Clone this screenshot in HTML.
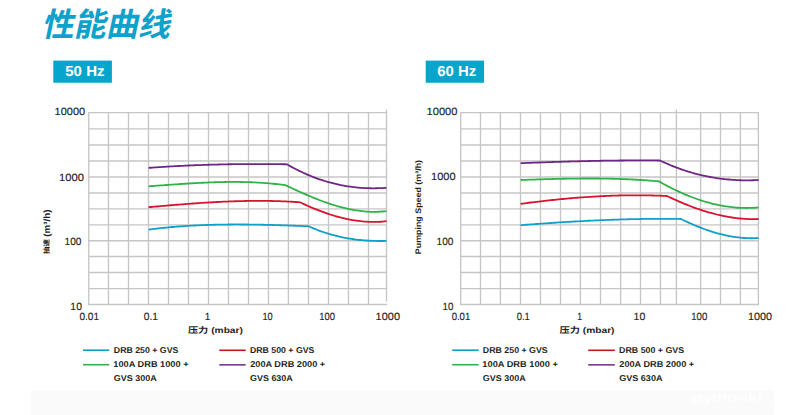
<!DOCTYPE html>
<html><head><meta charset="utf-8"><title>性能曲线</title>
<style>
html,body{margin:0;padding:0;background:#fff;width:800px;height:415px;overflow:hidden}
svg{display:block}text{text-rendering:geometricPrecision}
</style></head><body>
<svg width="800" height="415" viewBox="0 0 800 415">
<rect x="31" y="390.3" width="742.7" height="24.7" fill="#fafafa"/>
<g stroke="#c6c6c6" stroke-width="1.35" fill="none">
<line x1="88.15" y1="112.55" x2="387.10" y2="112.55"/>
<line x1="88.15" y1="128.80" x2="387.10" y2="128.80"/>
<line x1="88.15" y1="145.00" x2="387.10" y2="145.00"/>
<line x1="88.15" y1="161.00" x2="387.10" y2="161.00"/>
<line x1="88.15" y1="177.00" x2="387.10" y2="177.00"/>
<line x1="88.15" y1="193.00" x2="387.10" y2="193.00"/>
<line x1="88.15" y1="208.90" x2="387.10" y2="208.90"/>
<line x1="88.15" y1="224.90" x2="387.10" y2="224.90"/>
<line x1="88.15" y1="240.70" x2="387.10" y2="240.70"/>
<line x1="88.15" y1="256.50" x2="387.10" y2="256.50"/>
<line x1="88.15" y1="272.50" x2="387.10" y2="272.50"/>
<line x1="88.15" y1="288.55" x2="387.10" y2="288.55"/>
<line x1="88.15" y1="304.45" x2="387.10" y2="304.45"/>
<line x1="88.75" y1="112.55" x2="88.75" y2="304.45"/>
<line x1="108.50" y1="112.55" x2="108.50" y2="304.45"/>
<line x1="128.50" y1="112.55" x2="128.50" y2="304.45"/>
<line x1="148.50" y1="112.55" x2="148.50" y2="304.45"/>
<line x1="168.50" y1="112.55" x2="168.50" y2="304.45"/>
<line x1="188.50" y1="112.55" x2="188.50" y2="304.45"/>
<line x1="208.50" y1="112.55" x2="208.50" y2="304.45"/>
<line x1="228.50" y1="112.55" x2="228.50" y2="304.45"/>
<line x1="248.50" y1="112.55" x2="248.50" y2="304.45"/>
<line x1="268.50" y1="112.55" x2="268.50" y2="304.45"/>
<line x1="288.40" y1="112.55" x2="288.40" y2="304.45"/>
<line x1="308.50" y1="112.55" x2="308.50" y2="304.45"/>
<line x1="328.50" y1="112.55" x2="328.50" y2="304.45"/>
<line x1="348.50" y1="112.55" x2="348.50" y2="304.45"/>
<line x1="368.50" y1="112.55" x2="368.50" y2="304.45"/>
<line x1="386.50" y1="109.6" x2="386.50" y2="301.6"/>
<line x1="460.10" y1="112.55" x2="759.00" y2="112.55"/>
<line x1="460.10" y1="128.80" x2="759.00" y2="128.80"/>
<line x1="460.10" y1="145.00" x2="759.00" y2="145.00"/>
<line x1="460.10" y1="161.00" x2="759.00" y2="161.00"/>
<line x1="460.10" y1="177.00" x2="759.00" y2="177.00"/>
<line x1="460.10" y1="193.00" x2="759.00" y2="193.00"/>
<line x1="460.10" y1="208.90" x2="759.00" y2="208.90"/>
<line x1="460.10" y1="224.90" x2="759.00" y2="224.90"/>
<line x1="460.10" y1="240.70" x2="759.00" y2="240.70"/>
<line x1="460.10" y1="256.50" x2="759.00" y2="256.50"/>
<line x1="460.10" y1="272.50" x2="759.00" y2="272.50"/>
<line x1="460.10" y1="288.55" x2="759.00" y2="288.55"/>
<line x1="460.10" y1="304.45" x2="759.00" y2="304.45"/>
<line x1="460.70" y1="112.55" x2="460.70" y2="304.45"/>
<line x1="480.50" y1="112.55" x2="480.50" y2="304.45"/>
<line x1="500.40" y1="112.55" x2="500.40" y2="304.45"/>
<line x1="520.50" y1="112.55" x2="520.50" y2="304.45"/>
<line x1="540.50" y1="112.55" x2="540.50" y2="304.45"/>
<line x1="560.50" y1="112.55" x2="560.50" y2="304.45"/>
<line x1="580.40" y1="112.55" x2="580.40" y2="304.45"/>
<line x1="600.50" y1="112.55" x2="600.50" y2="304.45"/>
<line x1="620.60" y1="112.55" x2="620.60" y2="304.45"/>
<line x1="640.50" y1="112.55" x2="640.50" y2="304.45"/>
<line x1="660.50" y1="112.55" x2="660.50" y2="304.45"/>
<line x1="676.40" y1="109.6" x2="676.40" y2="304.45"/>
<line x1="700.60" y1="112.55" x2="700.60" y2="304.45"/>
<line x1="720.50" y1="112.55" x2="720.50" y2="304.45"/>
<line x1="740.40" y1="112.55" x2="740.40" y2="304.45"/>
<line x1="758.40" y1="112.55" x2="758.40" y2="304.45"/>
</g>
<g fill="none" stroke-width="1.8" stroke-linejoin="round" stroke-linecap="butt">
<path d="M148.60,229.60 L150.60,229.34 L152.60,229.09 L154.60,228.85 L156.60,228.62 L158.61,228.39 L160.61,228.17 L162.61,227.96 L164.61,227.76 L166.61,227.56 L168.61,227.37 L170.61,227.19 L172.61,227.01 L174.62,226.84 L176.62,226.68 L178.62,226.52 L180.62,226.37 L182.62,226.23 L184.62,226.09 L186.62,225.96 L188.62,225.84 L190.63,225.72 L192.63,225.61 L194.63,225.50 L196.63,225.40 L198.63,225.31 L200.63,225.22 L202.63,225.13 L204.63,225.05 L206.64,224.98 L208.64,224.91 L210.64,224.85 L212.64,224.79 L214.64,224.74 L216.64,224.69 L218.64,224.65 L220.64,224.61 L222.65,224.58 L224.65,224.55 L226.65,224.53 L228.65,224.51 L230.65,224.49 L232.65,224.48 L234.65,224.47 L236.65,224.47 L238.66,224.47 L240.66,224.48 L242.66,224.48 L244.66,224.50 L246.66,224.51 L248.66,224.53 L250.66,224.55 L252.66,224.58 L254.67,224.61 L256.67,224.64 L258.67,224.68 L260.67,224.72 L262.67,224.76 L264.67,224.80 L266.67,224.85 L268.67,224.90 L270.68,224.95 L272.68,225.00 L274.68,225.06 L276.68,225.12 L278.68,225.18 L280.68,225.24 L282.68,225.31 L284.68,225.38 L286.69,225.45 L288.69,225.52 L290.69,225.59 L292.69,225.66 L294.69,225.74 L296.69,225.81 L298.69,225.89 L300.69,225.97 L302.70,226.05 L304.70,226.13 L306.70,226.22 L308.70,226.30 L310.75,227.21 L312.79,228.09 L314.84,228.94 L316.89,229.76 L318.94,230.54 L320.98,231.29 L323.03,232.00 L325.08,232.69 L327.13,233.35 L329.17,233.97 L331.22,234.57 L333.27,235.13 L335.32,235.67 L337.36,236.18 L339.41,236.65 L341.46,237.11 L343.51,237.53 L345.55,237.93 L347.60,238.30 L349.65,238.64 L351.69,238.96 L353.74,239.26 L355.79,239.53 L357.84,239.77 L359.88,239.99 L361.93,240.19 L363.98,240.36 L366.03,240.52 L368.07,240.65 L370.12,240.76 L372.17,240.84 L374.22,240.91 L376.26,240.96 L378.31,240.98 L380.36,240.99 L382.41,240.98 L384.45,240.95 L386.50,240.90" stroke="#0ea0c9"/>
<path d="M520.60,225.20 L522.61,225.04 L524.61,224.89 L526.62,224.74 L528.62,224.58 L530.62,224.43 L532.63,224.28 L534.63,224.13 L536.64,223.99 L538.64,223.84 L540.65,223.70 L542.65,223.56 L544.66,223.41 L546.66,223.28 L548.67,223.14 L550.68,223.00 L552.68,222.87 L554.69,222.73 L556.69,222.60 L558.70,222.47 L560.70,222.34 L562.71,222.22 L564.71,222.09 L566.72,221.97 L568.72,221.85 L570.73,221.73 L572.73,221.61 L574.74,221.50 L576.74,221.39 L578.75,221.28 L580.75,221.17 L582.75,221.06 L584.76,220.96 L586.76,220.85 L588.77,220.75 L590.77,220.66 L592.78,220.56 L594.79,220.47 L596.79,220.37 L598.80,220.29 L600.80,220.20 L602.81,220.11 L604.81,220.03 L606.82,219.95 L608.82,219.88 L610.83,219.80 L612.83,219.73 L614.84,219.66 L616.84,219.59 L618.85,219.53 L620.85,219.47 L622.86,219.41 L624.86,219.35 L626.87,219.30 L628.87,219.25 L630.88,219.20 L632.88,219.16 L634.88,219.11 L636.89,219.07 L638.89,219.04 L640.90,219.01 L642.90,218.97 L644.91,218.95 L646.91,218.92 L648.92,218.90 L650.92,218.88 L652.93,218.87 L654.93,218.86 L656.94,218.85 L658.95,218.84 L660.95,218.84 L662.96,218.84 L664.96,218.84 L666.97,218.85 L668.97,218.86 L670.98,218.88 L672.98,218.90 L674.99,218.92 L676.99,218.94 L679.00,218.97 L681.00,219.00 L683.04,219.99 L685.08,220.96 L687.12,221.91 L689.16,222.84 L691.20,223.75 L693.24,224.63 L695.28,225.50 L697.32,226.34 L699.36,227.16 L701.39,227.95 L703.43,228.72 L705.47,229.47 L707.51,230.18 L709.55,230.88 L711.59,231.54 L713.63,232.18 L715.67,232.79 L717.71,233.37 L719.75,233.92 L721.79,234.44 L723.83,234.93 L725.87,235.39 L727.91,235.82 L729.95,236.21 L731.99,236.57 L734.03,236.90 L736.07,237.19 L738.11,237.45 L740.14,237.68 L742.18,237.87 L744.22,238.02 L746.26,238.13 L748.30,238.21 L750.34,238.24 L752.38,238.24 L754.42,238.20 L756.46,238.12 L758.50,238.00" stroke="#0ea0c9"/>
<path d="M148.60,207.20 L150.62,207.02 L152.64,206.84 L154.66,206.66 L156.67,206.48 L158.69,206.30 L160.71,206.13 L162.73,205.95 L164.75,205.78 L166.77,205.60 L168.79,205.43 L170.81,205.26 L172.82,205.09 L174.84,204.93 L176.86,204.76 L178.88,204.60 L180.90,204.44 L182.92,204.28 L184.94,204.12 L186.95,203.97 L188.97,203.82 L190.99,203.67 L193.01,203.52 L195.03,203.38 L197.05,203.24 L199.07,203.10 L201.09,202.96 L203.10,202.83 L205.12,202.70 L207.14,202.58 L209.16,202.46 L211.18,202.34 L213.20,202.23 L215.22,202.12 L217.23,202.01 L219.25,201.91 L221.27,201.81 L223.29,201.72 L225.31,201.63 L227.33,201.54 L229.35,201.46 L231.37,201.38 L233.38,201.31 L235.40,201.25 L237.42,201.18 L239.44,201.13 L241.46,201.08 L243.48,201.03 L245.50,200.99 L247.51,200.96 L249.53,200.93 L251.55,200.90 L253.57,200.88 L255.59,200.87 L257.61,200.86 L259.63,200.86 L261.65,200.87 L263.66,200.88 L265.68,200.90 L267.70,200.93 L269.72,200.96 L271.74,201.00 L273.76,201.04 L275.78,201.09 L277.79,201.15 L279.81,201.22 L281.83,201.29 L283.85,201.37 L285.87,201.46 L287.89,201.56 L289.91,201.66 L291.93,201.77 L293.94,201.89 L295.96,202.02 L297.98,202.15 L300.00,202.30 L302.01,203.25 L304.02,204.18 L306.03,205.10 L308.05,205.99 L310.06,206.87 L312.07,207.73 L314.08,208.57 L316.09,209.38 L318.10,210.18 L320.12,210.96 L322.13,211.71 L324.14,212.44 L326.15,213.15 L328.16,213.83 L330.17,214.50 L332.19,215.13 L334.20,215.74 L336.21,216.33 L338.22,216.89 L340.23,217.42 L342.24,217.93 L344.26,218.41 L346.27,218.86 L348.28,219.28 L350.29,219.67 L352.30,220.04 L354.31,220.37 L356.33,220.67 L358.34,220.95 L360.35,221.19 L362.36,221.39 L364.37,221.57 L366.38,221.71 L368.40,221.82 L370.41,221.90 L372.42,221.94 L374.43,221.94 L376.44,221.91 L378.45,221.84 L380.47,221.74 L382.48,221.60 L384.49,221.42 L386.50,221.20" stroke="#d9122f"/>
<path d="M520.60,203.80 L522.61,203.54 L524.61,203.28 L526.62,203.02 L528.62,202.76 L530.63,202.51 L532.63,202.27 L534.64,202.02 L536.64,201.78 L538.65,201.54 L540.65,201.31 L542.66,201.08 L544.67,200.85 L546.67,200.63 L548.68,200.41 L550.68,200.20 L552.69,199.99 L554.69,199.78 L556.70,199.58 L558.70,199.38 L560.71,199.18 L562.72,198.99 L564.72,198.80 L566.73,198.62 L568.73,198.44 L570.74,198.27 L572.74,198.10 L574.75,197.93 L576.75,197.77 L578.76,197.62 L580.76,197.47 L582.77,197.32 L584.78,197.18 L586.78,197.04 L588.79,196.91 L590.79,196.78 L592.80,196.65 L594.80,196.54 L596.81,196.42 L598.81,196.31 L600.82,196.21 L602.82,196.11 L604.83,196.02 L606.84,195.93 L608.84,195.85 L610.85,195.77 L612.85,195.70 L614.86,195.64 L616.86,195.58 L618.87,195.52 L620.87,195.47 L622.88,195.43 L624.88,195.39 L626.89,195.36 L628.90,195.33 L630.90,195.31 L632.91,195.29 L634.91,195.29 L636.92,195.28 L638.92,195.29 L640.93,195.30 L642.93,195.31 L644.94,195.33 L646.95,195.36 L648.95,195.40 L650.96,195.44 L652.96,195.48 L654.97,195.54 L656.97,195.60 L658.98,195.66 L660.98,195.74 L662.99,195.82 L664.99,195.90 L667.00,196.00 L669.03,196.97 L671.07,197.92 L673.10,198.86 L675.13,199.78 L677.17,200.68 L679.20,201.57 L681.23,202.44 L683.27,203.30 L685.30,204.13 L687.33,204.95 L689.37,205.75 L691.40,206.53 L693.43,207.29 L695.47,208.03 L697.50,208.75 L699.53,209.45 L701.57,210.12 L703.60,210.78 L705.63,211.42 L707.67,212.03 L709.70,212.62 L711.73,213.19 L713.77,213.73 L715.80,214.25 L717.83,214.75 L719.87,215.22 L721.90,215.67 L723.93,216.09 L725.97,216.48 L728.00,216.85 L730.03,217.20 L732.07,217.51 L734.10,217.80 L736.13,218.06 L738.17,218.30 L740.20,218.50 L742.23,218.68 L744.27,218.82 L746.30,218.94 L748.33,219.03 L750.37,219.08 L752.40,219.11 L754.43,219.11 L756.47,219.07 L758.50,219.00" stroke="#d9122f"/>
<path d="M148.60,186.30 L150.61,186.16 L152.63,186.01 L154.64,185.87 L156.65,185.72 L158.67,185.58 L160.68,185.43 L162.69,185.28 L164.71,185.14 L166.72,184.99 L168.73,184.85 L170.75,184.71 L172.76,184.57 L174.77,184.43 L176.79,184.29 L178.80,184.15 L180.81,184.01 L182.82,183.88 L184.84,183.75 L186.85,183.62 L188.86,183.50 L190.88,183.38 L192.89,183.26 L194.90,183.14 L196.92,183.03 L198.93,182.93 L200.94,182.82 L202.96,182.73 L204.97,182.63 L206.98,182.54 L209.00,182.46 L211.01,182.38 L213.02,182.31 L215.04,182.24 L217.05,182.18 L219.06,182.12 L221.08,182.08 L223.09,182.03 L225.10,182.00 L227.12,181.97 L229.13,181.95 L231.14,181.94 L233.16,181.93 L235.17,181.93 L237.18,181.94 L239.20,181.96 L241.21,181.99 L243.22,182.03 L245.24,182.07 L247.25,182.13 L249.26,182.19 L251.27,182.26 L253.29,182.35 L255.30,182.44 L257.31,182.54 L259.33,182.66 L261.34,182.78 L263.35,182.92 L265.37,183.07 L267.38,183.22 L269.39,183.39 L271.41,183.58 L273.42,183.77 L275.43,183.98 L277.45,184.19 L279.46,184.43 L281.47,184.67 L283.49,184.93 L285.50,185.20 L287.52,186.16 L289.54,187.11 L291.56,188.06 L293.58,189.00 L295.60,189.93 L297.62,190.86 L299.64,191.77 L301.66,192.68 L303.68,193.57 L305.70,194.45 L307.72,195.32 L309.74,196.18 L311.76,197.02 L313.78,197.85 L315.80,198.66 L317.82,199.46 L319.84,200.23 L321.86,200.99 L323.88,201.73 L325.90,202.45 L327.92,203.15 L329.94,203.83 L331.96,204.49 L333.98,205.13 L336.00,205.74 L338.02,206.32 L340.04,206.89 L342.06,207.42 L344.08,207.93 L346.10,208.41 L348.12,208.87 L350.14,209.29 L352.16,209.69 L354.18,210.05 L356.20,210.39 L358.22,210.69 L360.24,210.95 L362.26,211.19 L364.28,211.39 L366.30,211.55 L368.32,211.68 L370.34,211.78 L372.36,211.83 L374.38,211.85 L376.40,211.82 L378.42,211.76 L380.44,211.66 L382.46,211.51 L384.48,211.33 L386.50,211.10" stroke="#2fb24a"/>
<path d="M520.60,180.00 L522.61,179.93 L524.61,179.86 L526.62,179.79 L528.62,179.72 L530.63,179.66 L532.63,179.59 L534.64,179.53 L536.65,179.46 L538.65,179.40 L540.66,179.34 L542.66,179.28 L544.67,179.22 L546.68,179.16 L548.68,179.10 L550.69,179.05 L552.69,179.00 L554.70,178.95 L556.70,178.90 L558.71,178.85 L560.72,178.81 L562.72,178.76 L564.73,178.73 L566.73,178.69 L568.74,178.65 L570.74,178.62 L572.75,178.59 L574.76,178.57 L576.76,178.55 L578.77,178.53 L580.77,178.51 L582.78,178.50 L584.79,178.49 L586.79,178.48 L588.80,178.48 L590.80,178.48 L592.81,178.48 L594.81,178.49 L596.82,178.50 L598.83,178.52 L600.83,178.54 L602.84,178.57 L604.84,178.60 L606.85,178.63 L608.86,178.67 L610.86,178.71 L612.87,178.76 L614.87,178.81 L616.88,178.87 L618.88,178.93 L620.89,179.00 L622.90,179.07 L624.90,179.15 L626.91,179.24 L628.91,179.32 L630.92,179.42 L632.92,179.52 L634.93,179.63 L636.94,179.74 L638.94,179.86 L640.95,179.98 L642.95,180.11 L644.96,180.25 L646.97,180.40 L648.97,180.55 L650.98,180.70 L652.98,180.87 L654.99,181.04 L656.99,181.21 L659.00,181.40 L661.03,182.55 L663.06,183.68 L665.09,184.78 L667.12,185.86 L669.15,186.92 L671.18,187.96 L673.21,188.97 L675.24,189.96 L677.28,190.93 L679.31,191.87 L681.34,192.79 L683.37,193.68 L685.40,194.55 L687.43,195.40 L689.46,196.22 L691.49,197.01 L693.52,197.78 L695.55,198.52 L697.58,199.24 L699.61,199.93 L701.64,200.60 L703.67,201.24 L705.70,201.85 L707.73,202.43 L709.77,202.99 L711.80,203.51 L713.83,204.01 L715.86,204.49 L717.89,204.93 L719.92,205.34 L721.95,205.73 L723.98,206.08 L726.01,206.41 L728.04,206.71 L730.07,206.97 L732.10,207.21 L734.13,207.41 L736.16,207.59 L738.19,207.73 L740.22,207.84 L742.26,207.93 L744.29,207.97 L746.32,207.99 L748.35,207.97 L750.38,207.93 L752.41,207.84 L754.44,207.73 L756.47,207.58 L758.50,207.40" stroke="#2fb24a"/>
<path d="M148.60,167.90 L150.61,167.75 L152.61,167.61 L154.62,167.47 L156.62,167.33 L158.63,167.19 L160.63,167.06 L162.64,166.93 L164.65,166.81 L166.65,166.68 L168.66,166.56 L170.66,166.45 L172.67,166.33 L174.68,166.22 L176.68,166.11 L178.69,166.01 L180.69,165.90 L182.70,165.80 L184.70,165.71 L186.71,165.61 L188.72,165.52 L190.72,165.43 L192.73,165.35 L194.73,165.26 L196.74,165.18 L198.74,165.11 L200.75,165.03 L202.76,164.96 L204.76,164.89 L206.77,164.82 L208.77,164.76 L210.78,164.70 L212.79,164.64 L214.79,164.59 L216.80,164.53 L218.80,164.48 L220.81,164.44 L222.81,164.39 L224.82,164.35 L226.83,164.31 L228.83,164.27 L230.84,164.24 L232.84,164.21 L234.85,164.18 L236.86,164.15 L238.86,164.13 L240.87,164.11 L242.87,164.09 L244.88,164.07 L246.88,164.06 L248.89,164.05 L250.90,164.04 L252.90,164.03 L254.91,164.03 L256.91,164.03 L258.92,164.03 L260.92,164.03 L262.93,164.04 L264.94,164.05 L266.94,164.06 L268.95,164.07 L270.95,164.09 L272.96,164.11 L274.97,164.13 L276.97,164.15 L278.98,164.17 L280.98,164.20 L282.99,164.23 L284.99,164.27 L287.00,164.30 L289.03,165.47 L291.06,166.60 L293.09,167.70 L295.12,168.78 L297.15,169.82 L299.18,170.83 L301.21,171.81 L303.24,172.76 L305.28,173.68 L307.31,174.57 L309.34,175.43 L311.37,176.26 L313.40,177.06 L315.43,177.83 L317.46,178.57 L319.49,179.29 L321.52,179.97 L323.55,180.63 L325.58,181.26 L327.61,181.86 L329.64,182.43 L331.67,182.98 L333.70,183.49 L335.73,183.98 L337.77,184.44 L339.80,184.88 L341.83,185.29 L343.86,185.67 L345.89,186.02 L347.92,186.35 L349.95,186.65 L351.98,186.93 L354.01,187.18 L356.04,187.41 L358.07,187.60 L360.10,187.78 L362.13,187.93 L364.16,188.05 L366.19,188.15 L368.22,188.22 L370.26,188.27 L372.29,188.29 L374.32,188.29 L376.35,188.27 L378.38,188.22 L380.41,188.15 L382.44,188.06 L384.47,187.94 L386.50,187.80" stroke="#6f2585"/>
<path d="M520.60,163.20 L522.62,163.12 L524.64,163.04 L526.66,162.96 L528.68,162.88 L530.70,162.80 L532.72,162.72 L534.74,162.65 L536.76,162.57 L538.78,162.50 L540.80,162.42 L542.82,162.35 L544.84,162.28 L546.86,162.21 L548.88,162.14 L550.90,162.07 L552.92,162.00 L554.94,161.94 L556.97,161.87 L558.99,161.81 L561.01,161.75 L563.03,161.68 L565.05,161.62 L567.07,161.56 L569.09,161.50 L571.11,161.45 L573.13,161.39 L575.15,161.34 L577.17,161.28 L579.19,161.23 L581.21,161.18 L583.23,161.13 L585.25,161.09 L587.27,161.04 L589.29,161.00 L591.31,160.95 L593.33,160.91 L595.35,160.87 L597.37,160.83 L599.39,160.79 L601.41,160.76 L603.43,160.72 L605.45,160.69 L607.47,160.66 L609.49,160.63 L611.51,160.60 L613.53,160.58 L615.55,160.55 L617.57,160.53 L619.59,160.51 L621.61,160.49 L623.63,160.48 L625.66,160.46 L627.68,160.45 L629.70,160.44 L631.72,160.43 L633.74,160.42 L635.76,160.41 L637.78,160.41 L639.80,160.41 L641.82,160.41 L643.84,160.41 L645.86,160.41 L647.88,160.42 L649.90,160.43 L651.92,160.44 L653.94,160.45 L655.96,160.46 L657.98,160.48 L660.00,160.50 L662.01,161.45 L664.02,162.37 L666.03,163.27 L668.04,164.14 L670.05,164.99 L672.06,165.81 L674.07,166.61 L676.08,167.39 L678.09,168.14 L680.10,168.87 L682.11,169.57 L684.12,170.25 L686.13,170.91 L688.14,171.54 L690.15,172.15 L692.16,172.74 L694.17,173.30 L696.18,173.84 L698.19,174.36 L700.20,174.86 L702.21,175.33 L704.22,175.78 L706.23,176.21 L708.24,176.62 L710.26,177.00 L712.27,177.37 L714.28,177.71 L716.29,178.03 L718.30,178.33 L720.31,178.61 L722.32,178.86 L724.33,179.10 L726.34,179.31 L728.35,179.50 L730.36,179.68 L732.37,179.83 L734.38,179.96 L736.39,180.07 L738.40,180.17 L740.41,180.24 L742.42,180.29 L744.43,180.32 L746.44,180.33 L748.45,180.33 L750.46,180.30 L752.47,180.25 L754.48,180.19 L756.49,180.11 L758.50,180.00" stroke="#6f2585"/>
</g>
<g stroke-width="1.6">
<line x1="83" y1="350.2" x2="109.2" y2="350.2" stroke="#0ea0c9"/>
<line x1="83" y1="364.7" x2="109.2" y2="364.7" stroke="#2fb24a"/>
<line x1="219.3" y1="350.3" x2="245.7" y2="350.3" stroke="#c5151f"/>
<line x1="219.3" y1="364.85" x2="245.7" y2="364.85" stroke="#7a3592"/>
<line x1="452.2" y1="350.2" x2="478.7" y2="350.2" stroke="#0ea0c9"/>
<line x1="452.2" y1="364.7" x2="478.7" y2="364.7" stroke="#2fb24a"/>
<line x1="588.2" y1="350.3" x2="614.8" y2="350.3" stroke="#c5151f"/>
<line x1="588.2" y1="364.85" x2="614.8" y2="364.85" stroke="#7a3592"/>
</g>
<rect x="53.3" y="60.6" width="58.6" height="22.15" fill="#05a5cc"/>
<rect x="425.7" y="60.6" width="58.35" height="22.15" fill="#05a5cc"/>
<text transform="translate(41.535,35.860) skewX(-12)" x="0" y="0" style="font-size:32.500px;font-weight:bold;font-family:'Noto Sans CJK SC', sans-serif" fill="#0ea2ca" textLength="128.361" lengthAdjust="spacingAndGlyphs">性能曲线</text>
<text transform="translate(65.265,75.962)" x="0" y="0" style="font-size:14.500px;font-weight:bold;font-family:'Liberation Sans', 'Noto Sans CJK SC', sans-serif" fill="#ffffff" textLength="39.213" lengthAdjust="spacingAndGlyphs">50 Hz</text>
<text transform="translate(437.304,75.726)" x="0" y="0" style="font-size:14.500px;font-weight:bold;font-family:'Liberation Sans', 'Noto Sans CJK SC', sans-serif" fill="#ffffff" textLength="38.895" lengthAdjust="spacingAndGlyphs">60 Hz</text>
<text transform="translate(54.616,115.468)" x="0" y="0" style="font-size:10.500px;font-weight:normal;font-family:'Liberation Sans', 'Noto Sans CJK SC', sans-serif" fill="#231f20" textLength="30.519" lengthAdjust="spacingAndGlyphs" stroke="#231f20" stroke-width="0.15">10000</text>
<text transform="translate(58.965,180.869)" x="0" y="0" style="font-size:10.500px;font-weight:normal;font-family:'Liberation Sans', 'Noto Sans CJK SC', sans-serif" fill="#231f20" textLength="24.887" lengthAdjust="spacingAndGlyphs" stroke="#231f20" stroke-width="0.15">1000</text>
<text transform="translate(64.622,244.824)" x="0" y="0" style="font-size:10.500px;font-weight:normal;font-family:'Liberation Sans', 'Noto Sans CJK SC', sans-serif" fill="#231f20" textLength="16.843" lengthAdjust="spacingAndGlyphs" stroke="#231f20" stroke-width="0.15">100</text>
<text transform="translate(70.362,309.950)" x="0" y="0" style="font-size:10.500px;font-weight:normal;font-family:'Liberation Sans', 'Noto Sans CJK SC', sans-serif" fill="#231f20" textLength="11.560" lengthAdjust="spacingAndGlyphs" stroke="#231f20" stroke-width="0.15">10</text>
<text transform="translate(426.560,115.465)" x="0" y="0" style="font-size:10.500px;font-weight:normal;font-family:'Liberation Sans', 'Noto Sans CJK SC', sans-serif" fill="#231f20" textLength="30.929" lengthAdjust="spacingAndGlyphs" stroke="#231f20" stroke-width="0.15">10000</text>
<text transform="translate(431.034,180.202)" x="0" y="0" style="font-size:10.500px;font-weight:normal;font-family:'Liberation Sans', 'Noto Sans CJK SC', sans-serif" fill="#231f20" textLength="24.504" lengthAdjust="spacingAndGlyphs" stroke="#231f20" stroke-width="0.15">1000</text>
<text transform="translate(436.622,245.106)" x="0" y="0" style="font-size:10.500px;font-weight:normal;font-family:'Liberation Sans', 'Noto Sans CJK SC', sans-serif" fill="#231f20" textLength="16.774" lengthAdjust="spacingAndGlyphs" stroke="#231f20" stroke-width="0.15">100</text>
<text transform="translate(442.444,309.947)" x="0" y="0" style="font-size:10.500px;font-weight:normal;font-family:'Liberation Sans', 'Noto Sans CJK SC', sans-serif" fill="#231f20" textLength="10.902" lengthAdjust="spacingAndGlyphs" stroke="#231f20" stroke-width="0.15">10</text>
<text transform="translate(79.421,319.878)" x="0" y="0" style="font-size:10.500px;font-weight:normal;font-family:'Liberation Sans', 'Noto Sans CJK SC', sans-serif" fill="#231f20" textLength="19.622" lengthAdjust="spacingAndGlyphs" stroke="#231f20" stroke-width="0.15">0.01</text>
<text transform="translate(143.692,319.950)" x="0" y="0" style="font-size:10.500px;font-weight:normal;font-family:'Liberation Sans', 'Noto Sans CJK SC', sans-serif" fill="#231f20" textLength="14.242" lengthAdjust="spacingAndGlyphs" stroke="#231f20" stroke-width="0.15">0.1</text>
<text transform="translate(204.800,319.530)" x="0" y="0" style="font-size:10.500px;font-weight:normal;font-family:'Liberation Sans', 'Noto Sans CJK SC', sans-serif" fill="#231f20" textLength="5.548" lengthAdjust="spacingAndGlyphs" stroke="#231f20" stroke-width="0.15">1</text>
<text transform="translate(262.441,319.919)" x="0" y="0" style="font-size:10.500px;font-weight:normal;font-family:'Liberation Sans', 'Noto Sans CJK SC', sans-serif" fill="#231f20" textLength="10.302" lengthAdjust="spacingAndGlyphs" stroke="#231f20" stroke-width="0.15">10</text>
<text transform="translate(319.354,319.897)" x="0" y="0" style="font-size:10.500px;font-weight:normal;font-family:'Liberation Sans', 'Noto Sans CJK SC', sans-serif" fill="#231f20" textLength="15.663" lengthAdjust="spacingAndGlyphs" stroke="#231f20" stroke-width="0.15">100</text>
<text transform="translate(375.623,319.793)" x="0" y="0" style="font-size:10.500px;font-weight:normal;font-family:'Liberation Sans', 'Noto Sans CJK SC', sans-serif" fill="#231f20" textLength="24.365" lengthAdjust="spacingAndGlyphs" stroke="#231f20" stroke-width="0.15">1000</text>
<text transform="translate(451.633,319.906)" x="0" y="0" style="font-size:10.500px;font-weight:normal;font-family:'Liberation Sans', 'Noto Sans CJK SC', sans-serif" fill="#231f20" textLength="18.632" lengthAdjust="spacingAndGlyphs" stroke="#231f20" stroke-width="0.15">0.01</text>
<text transform="translate(516.633,319.938)" x="0" y="0" style="font-size:10.500px;font-weight:normal;font-family:'Liberation Sans', 'Noto Sans CJK SC', sans-serif" fill="#231f20" textLength="13.186" lengthAdjust="spacingAndGlyphs" stroke="#231f20" stroke-width="0.15">0.1</text>
<text transform="translate(577.253,319.818)" x="0" y="0" style="font-size:10.500px;font-weight:normal;font-family:'Liberation Sans', 'Noto Sans CJK SC', sans-serif" fill="#231f20" textLength="4.841" lengthAdjust="spacingAndGlyphs" stroke="#231f20" stroke-width="0.15">1</text>
<text transform="translate(633.534,319.869)" x="0" y="0" style="font-size:10.500px;font-weight:normal;font-family:'Liberation Sans', 'Noto Sans CJK SC', sans-serif" fill="#231f20" textLength="11.710" lengthAdjust="spacingAndGlyphs" stroke="#231f20" stroke-width="0.15">10</text>
<text transform="translate(691.260,319.887)" x="0" y="0" style="font-size:10.500px;font-weight:normal;font-family:'Liberation Sans', 'Noto Sans CJK SC', sans-serif" fill="#231f20" textLength="16.028" lengthAdjust="spacingAndGlyphs" stroke="#231f20" stroke-width="0.15">100</text>
<text transform="translate(747.931,319.894)" x="0" y="0" style="font-size:10.500px;font-weight:normal;font-family:'Liberation Sans', 'Noto Sans CJK SC', sans-serif" fill="#231f20" textLength="24.103" lengthAdjust="spacingAndGlyphs" stroke="#231f20" stroke-width="0.15">1000</text>
<text transform="translate(187.917,333.227)" x="0" y="0" style="font-size:8.300px;font-weight:bold;font-family:'Liberation Sans', 'Noto Sans CJK SC', sans-serif" fill="#231f20" textLength="55.002" lengthAdjust="spacingAndGlyphs">压力 (mbar)</text>
<text transform="translate(559.572,332.572)" x="0" y="0" style="font-size:8.300px;font-weight:bold;font-family:'Liberation Sans', 'Noto Sans CJK SC', sans-serif" fill="#231f20" textLength="54.945" lengthAdjust="spacingAndGlyphs">压力 (mbar)</text>
<text transform="translate(420.635,254.189) rotate(-90)" x="0" y="0" style="font-size:8.100px;font-weight:bold;font-family:'Liberation Sans', 'Noto Sans CJK SC', sans-serif" fill="#231f20" textLength="94.223" lengthAdjust="spacingAndGlyphs">Pumping Speed (m³/h)</text>
<text transform="translate(113.842,353.380)" x="0" y="0" style="font-size:8.500px;font-weight:bold;font-family:'Liberation Sans', 'Noto Sans CJK SC', sans-serif" fill="#231f20" textLength="64.507" lengthAdjust="spacingAndGlyphs">DRB 250 + GVS</text>
<text transform="translate(113.356,366.620)" x="0" y="0" style="font-size:8.500px;font-weight:bold;font-family:'Liberation Sans', 'Noto Sans CJK SC', sans-serif" fill="#231f20" textLength="75.214" lengthAdjust="spacingAndGlyphs">100A DRB 1000 +</text>
<text transform="translate(113.861,381.310)" x="0" y="0" style="font-size:8.500px;font-weight:bold;font-family:'Liberation Sans', 'Noto Sans CJK SC', sans-serif" fill="#231f20" textLength="42.860" lengthAdjust="spacingAndGlyphs">GVS 300A</text>
<text transform="translate(249.954,353.380)" x="0" y="0" style="font-size:8.500px;font-weight:bold;font-family:'Liberation Sans', 'Noto Sans CJK SC', sans-serif" fill="#231f20" textLength="64.441" lengthAdjust="spacingAndGlyphs">DRB 500 + GVS</text>
<text transform="translate(250.177,366.620)" x="0" y="0" style="font-size:8.500px;font-weight:bold;font-family:'Liberation Sans', 'Noto Sans CJK SC', sans-serif" fill="#231f20" textLength="75.062" lengthAdjust="spacingAndGlyphs">200A DRB 2000 +</text>
<text transform="translate(249.995,381.231)" x="0" y="0" style="font-size:8.500px;font-weight:bold;font-family:'Liberation Sans', 'Noto Sans CJK SC', sans-serif" fill="#231f20" textLength="42.801" lengthAdjust="spacingAndGlyphs">GVS 630A</text>
<text transform="translate(482.836,353.380)" x="0" y="0" style="font-size:8.500px;font-weight:bold;font-family:'Liberation Sans', 'Noto Sans CJK SC', sans-serif" fill="#231f20" textLength="64.871" lengthAdjust="spacingAndGlyphs">DRB 250 + GVS</text>
<text transform="translate(482.356,366.620)" x="0" y="0" style="font-size:8.500px;font-weight:bold;font-family:'Liberation Sans', 'Noto Sans CJK SC', sans-serif" fill="#231f20" textLength="75.433" lengthAdjust="spacingAndGlyphs">100A DRB 1000 +</text>
<text transform="translate(482.861,381.310)" x="0" y="0" style="font-size:8.500px;font-weight:bold;font-family:'Liberation Sans', 'Noto Sans CJK SC', sans-serif" fill="#231f20" textLength="42.860" lengthAdjust="spacingAndGlyphs">GVS 300A</text>
<text transform="translate(619.101,353.380)" x="0" y="0" style="font-size:8.500px;font-weight:bold;font-family:'Liberation Sans', 'Noto Sans CJK SC', sans-serif" fill="#231f20" textLength="65.029" lengthAdjust="spacingAndGlyphs">DRB 500 + GVS</text>
<text transform="translate(619.308,366.620)" x="0" y="0" style="font-size:8.500px;font-weight:bold;font-family:'Liberation Sans', 'Noto Sans CJK SC', sans-serif" fill="#231f20" textLength="74.847" lengthAdjust="spacingAndGlyphs">200A DRB 2000 +</text>
<text transform="translate(619.164,381.128)" x="0" y="0" style="font-size:8.500px;font-weight:bold;font-family:'Liberation Sans', 'Noto Sans CJK SC', sans-serif" fill="#231f20" textLength="43.345" lengthAdjust="spacingAndGlyphs">GVS 630A</text>
<text transform="translate(692.151,402.022)" x="0" y="0" style="font-size:12.500px;font-weight:normal;font-family:'Liberation Sans', 'Noto Sans CJK SC', sans-serif" fill="#ffffff" textLength="81.043" lengthAdjust="spacingAndGlyphs">pythonkf .</text>
<text transform="translate(48.973,254.322) rotate(-90)" x="0" y="0" style="font-size:6.900px;font-weight:bold;font-family:'Noto Sans CJK SC', sans-serif" fill="#231f20" textLength="15.268" lengthAdjust="spacingAndGlyphs">抽速</text>
<text transform="translate(50.130,236.649) rotate(-90)" x="0" y="0" style="font-size:9.200px;font-weight:bold;font-family:'Liberation Sans', 'Noto Sans CJK SC', sans-serif" fill="#231f20" textLength="27.185" lengthAdjust="spacingAndGlyphs">(m³/h)</text>
</svg>
</body></html>
